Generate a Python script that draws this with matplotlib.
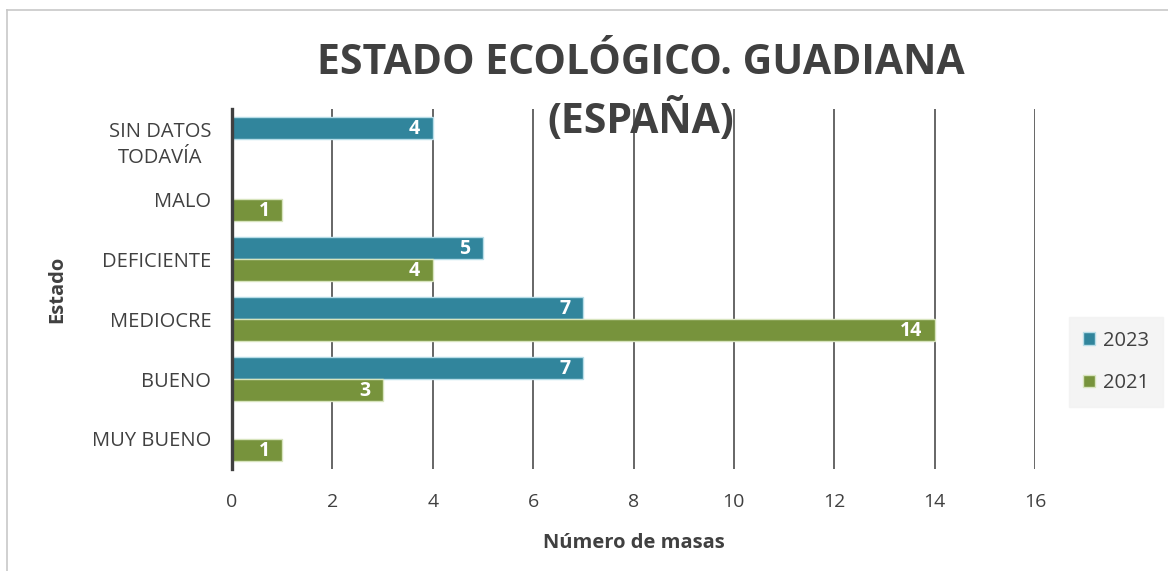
import matplotlib
matplotlib.use("Agg")
import numpy as np
import matplotlib.pyplot as plt
from matplotlib.lines import Line2D

plt.rcParams['font.family'] = ['Open Sans', 'DejaVu Sans']

# datos
categorias = ['MUY BUENO', 'BUENO', 'MEDIOCRE', 'DEFICIENTE', 'MALO', 'SIN DATOS\nTODAVÍA']
valores_2023 = [0, 7, 7, 5, 0, 4]
valores_2021 = [1, 3, 14, 4, 1, 0]
ticks_x = [0, 2, 4, 6, 8, 10, 12, 14, 16]
titulo = ['ESTADO ECOLÓGICO. GUADIANA', '(ESPAÑA)']

color_2023 = '#31859C'
color_2021 = '#77933C'
gris_texto = '#404040'

fig = plt.figure(figsize=(11.68, 5.71), dpi=100)
ax = fig.add_axes([232 / 1168, 1 - 469 / 571, (1035 - 232) / 1168, 360 / 571])

y = np.arange(len(categorias))
alto = 0.36
b23 = ax.barh(y + alto / 2, valores_2023, height=alto, color=color_2023,
              edgecolor='#b7dde8', linewidth=1, label='2023', zorder=3)
b21 = ax.barh(y - alto / 2, valores_2021, height=alto, color=color_2021,
              edgecolor='#d7e4bd', linewidth=1, label='2021', zorder=3)

# etiquetas de valor dentro de la barra
for barras, vals in [(b23, valores_2023), (b21, valores_2021)]:
    for bar, v in zip(barras, vals):
        if v == 0:
            continue
        ax.text(v - 0.25, bar.get_y() + bar.get_height() / 2 - 0.02, f'{v}',
                ha='right', va='center', color='white', fontsize=14,
                fontweight='bold', zorder=4)

ax.set_xlim(0, 16)
ax.set_ylim(-0.5, 5.5)
ax.set_xticks(ticks_x)
ax.set_yticks(y)
ax.set_yticklabels(categorias, fontsize=14.5, color=gris_texto, linespacing=1.4,
                   multialignment='center')
ax.tick_params(axis='x', labelsize=14, labelcolor=gris_texto, length=0, pad=17)
ax.tick_params(axis='y', length=0, pad=15)

ax.grid(True, axis='x', color='#5a5a5a', linewidth=1.3, zorder=0)
for s in ['top', 'right', 'bottom']:
    ax.spines[s].set_visible(False)
ax.spines['left'].set_color(gris_texto)
ax.spines['left'].set_linewidth(2.4)
ax.spines['left'].set_zorder(5)

ax.set_xlabel('Número de masas', fontsize=14.5, fontweight='bold', color=gris_texto, labelpad=16)
ax.set_ylabel('Estado', fontsize=14.5, fontweight='bold', color=gris_texto, labelpad=18)

# título en dos líneas
for linea, yy in zip(titulo, [63, 121]):
    fig.text(641 / 1168, 1 - yy / 571, linea, ha='center', va='center',
             fontsize=29.5, fontweight='bold', color=gris_texto)

leg = fig.legend(handles=[b23, b21], loc='center', bbox_to_anchor=(1116 / 1168, 1 - 362 / 571),
                 frameon=True, fontsize=14.5, handlelength=0.6, handleheight=0.6,
                 labelspacing=1.1, handletextpad=0.35, borderpad=0.7)
leg.get_frame().set_facecolor('#f2f2f2')
leg.get_frame().set_edgecolor('#f2f2f2')
leg.get_frame().set_boxstyle('square', pad=0)
for t in leg.get_texts():
    t.set_color(gris_texto)

# marco del gráfico
fig.add_artist(Line2D([7 / 1168, 7 / 1168], [0, 1 - 10 / 571], color='#c8c8c8', lw=1.2))
fig.add_artist(Line2D([7 / 1168, 1], [1 - 10 / 571, 1 - 10 / 571], color='#c8c8c8', lw=1.2))

fig.savefig('out.png', dpi=100)
